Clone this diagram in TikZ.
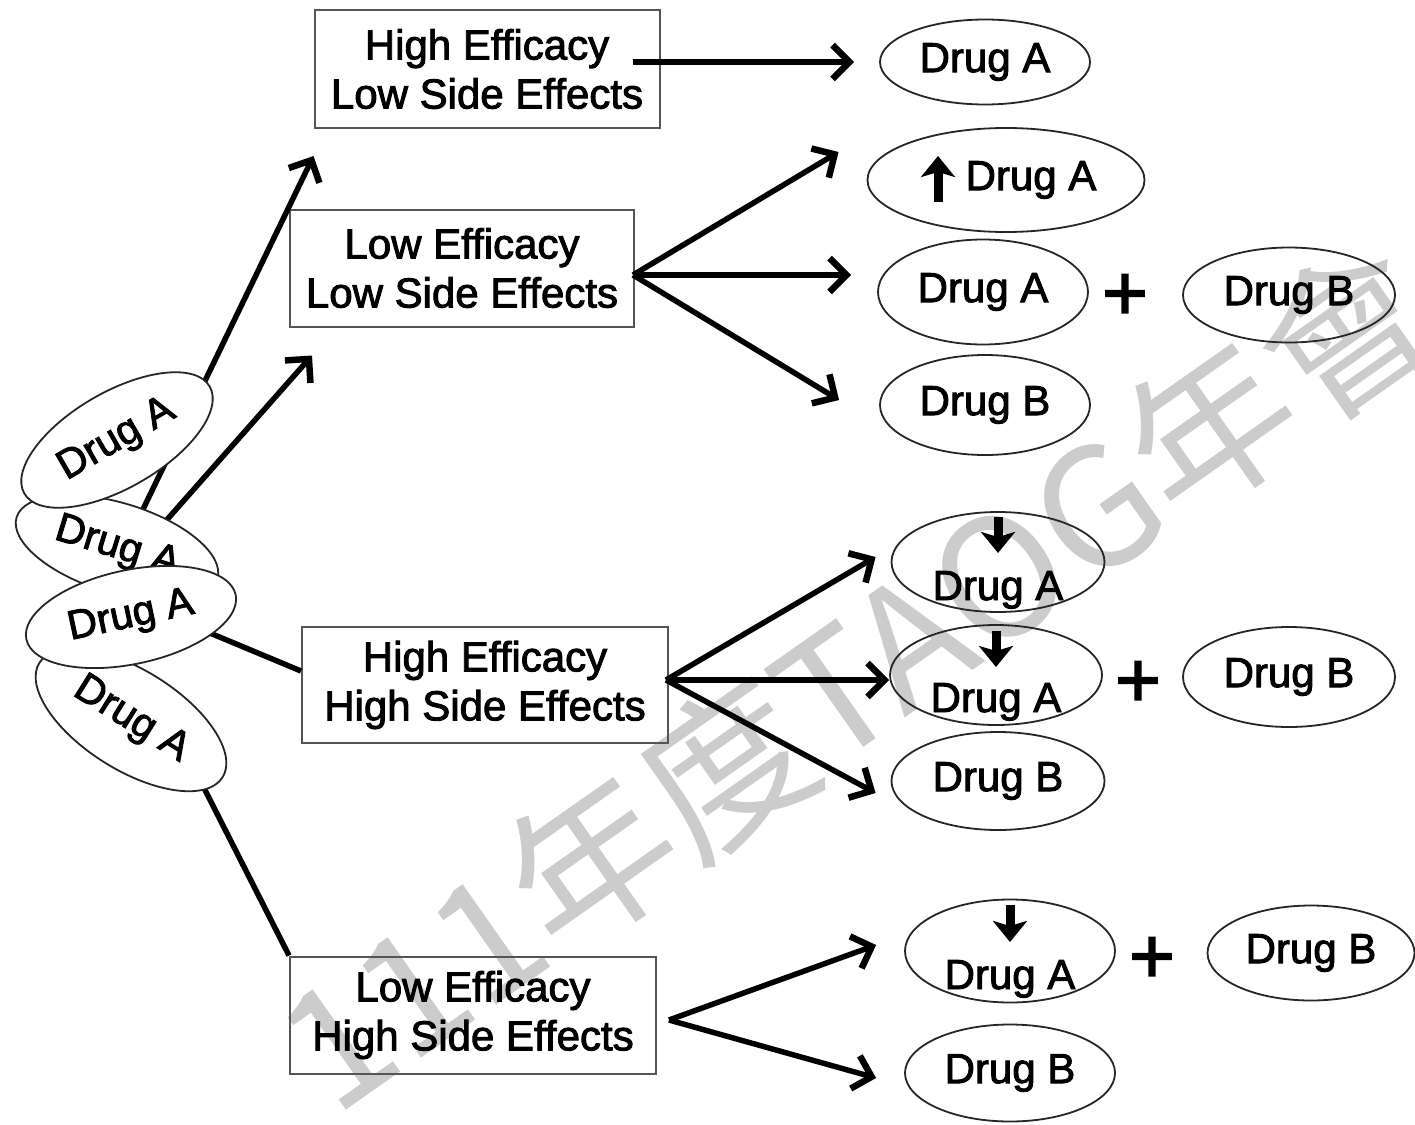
\documentclass[tikz,border=0pt]{standalone}
\usepackage{fontspec}
\setmainfont{Liberation Sans}[FakeBold=2.2]
\newfontfamily\cjkfont{Noto Sans CJK TC}
\usetikzlibrary{arrows.meta,calc,shapes.geometric}

\definecolor{markgray}{RGB}{204,204,204}
\definecolor{boxline}{RGB}{85,85,85}

\begin{document}
\begin{tikzpicture}[x=1pt,y=-1pt,
  every node/.style={inner sep=0pt},
  outcome/.style={draw=boxline,line width=2pt,minimum width=#1,minimum height=117pt,
    align=center,font=\fontsize{42}{49}\selectfont},
  drug/.style 2 args={ellipse,draw=black!85,line width=1.8pt,minimum width=#1,minimum height=#2,
    font=\fontsize{42}{42}\selectfont},
  stackdrug/.style={ellipse,draw=black!85,line width=1.8pt,fill=white,
    font=\fontsize{41}{41}\selectfont},
  linkline/.style={line width=5.5pt},
  arr/.style={linkline,-{Straight Barb[length=17pt,width=34pt,line width=6.5pt]}},
  dose/.style={line width=9pt,-{Stealth[length=21pt,width=34pt,inset=5pt]}},
  plussign/.style={font=\fontsize{78}{78}\selectfont},
  wmark/.style={text=markgray,font=\cjkfont\fontsize{165}{165}\selectfont}
]
\useasboundingbox (0,0) rectangle (1415,1124);
\fill[white] (0,0) rectangle (1415,1124);
\clip (0,0) rectangle (1415,1124);

% background watermark
\node[wmark,rotate=35.1] (wm) at (855,676) {111年度TAOG年會};

% outcome boxes
\node[outcome=345pt,minimum height=118pt] (box1) at (487,69) {High Efficacy\\Low Side Effects};
\node[outcome=344pt] (box2) at (462,268) {Low Efficacy\\Low Side Effects};
\node[outcome=366pt,minimum height=116pt] (box3) at (485,685) {High Efficacy\\High Side Effects};
\node[outcome=366pt] (box4) at (473,1015) {Low Efficacy\\High Side Effects};

% treatment options
\node[drug={210pt}{85pt}] (E1) at (985,62) {Drug A};
\node[drug={277pt}{104pt}] (E2) at (1006,180) {\hspace*{50pt}Drug A};
\node[drug={210pt}{105pt}] (E3) at (983,292) {Drug A};
\node[drug={212pt}{95pt}] (E4) at (1289,295) {Drug B};
\node[drug={210pt}{100pt}] (E5) at (985,405) {Drug B};
\node[drug={213pt}{100pt}] (E6) at (998,562) {\raisebox{-38pt}[0pt][0pt]{Drug A}};
\node[drug={212pt}{100pt}] (E7) at (996,675) {\raisebox{-37pt}[0pt][0pt]{Drug A}};
\node[drug={212pt}{100pt}] (E8) at (1289,677) {Drug B};
\node[drug={213pt}{98pt}] (E9) at (998,781) {Drug B};
\node[drug={210pt}{103pt}] (E10) at (1010,951) {\raisebox{-38pt}[0pt][0pt]{Drug A}};
\node[drug={207pt}{95pt}] (E11) at (1311,953) {Drug B};
\node[drug={210pt}{97pt}] (E12) at (1010,1073) {Drug B};

\node[plussign] (p1) at (1125,297) {+};
\node[plussign] (p2) at (1138,684) {+};
\node[plussign] (p3) at (1152,960) {+};

% dose changes
\draw[dose] ($(E2.center)+(-68,22)$) -- ($(E2.center)+(-68,-24)$);
\draw[dose] ($(E6.center)+(0,-45)$) -- ($(E6.center)+(0,-9)$);
\draw[dose] ($(E7.center)+(0,-44)$) -- ($(E7.center)+(0,-8)$);
\draw[dose] ($(E10.center)+(0,-46)$) -- ($(E10.center)+(0,-9)$);

% branches from the outcome boxes
\draw[arr] ($(box1.east)+(-28,-7)$) -- ($(E1.west)+(-25,0)$);
\coordinate (b2) at ($(box2.east)+(-2,7)$);
\draw[arr] (b2) -- ($(E2.west)+(-28,-28)$);
\draw[arr] (b2) -- ($(E3.west)+(-26,-17)$);
\draw[arr] (b2) -- ($(E5.west)+(-40,-5)$);
\coordinate (b3) at ($(box3.east)+(-3,-5)$);
\draw[arr] (b3) -- ($(E6.west)+(-15,-5)$);
\draw[arr] (b3) -- ($(E7.west)+(0,5)$);
\draw[arr] (b3) -- ($(E9.west)+(-15,12)$);
\coordinate (b4) at ($(box4.east)+(12,5)$);
\draw[arr] (b4) -- ($(E10.west)+(-28,-6)$);
\draw[arr] (b4) -- ($(E12.west)+(-28,5)$);

% links from the initial drug, starting behind the stacked ellipses
\coordinate (s1) at (133,530);
\coordinate (s2) at (149,540);
\coordinate (s3) at (150,608);
\coordinate (s4) at (170,721);
\draw[arr] (s1) -- ($(box1.south west)+(0,27)$);
\draw[arr] (s2) -- ($(box2.south west)+(23,28)$);
\draw[linkline] (s3) -- ($(box3.west)+(0,-14)$);
\draw[linkline] (s4) -- (box4.north west);

% stacked initial drug
\node[stackdrug,minimum width=210pt,minimum height=90pt,rotate=-17] (L2) at (117,548) {Drug A};
\node[stackdrug,minimum width=216pt,minimum height=100pt,rotate=-32] (L4) at (131,720) {Drug A};
\node[stackdrug,minimum width=214pt,minimum height=96pt,rotate=30] (L1) at (117,440) {Drug A};
\node[stackdrug,minimum width=214pt,minimum height=94pt,rotate=12] (L3) at (131,617) {Drug A};
\end{tikzpicture}
\end{document}
